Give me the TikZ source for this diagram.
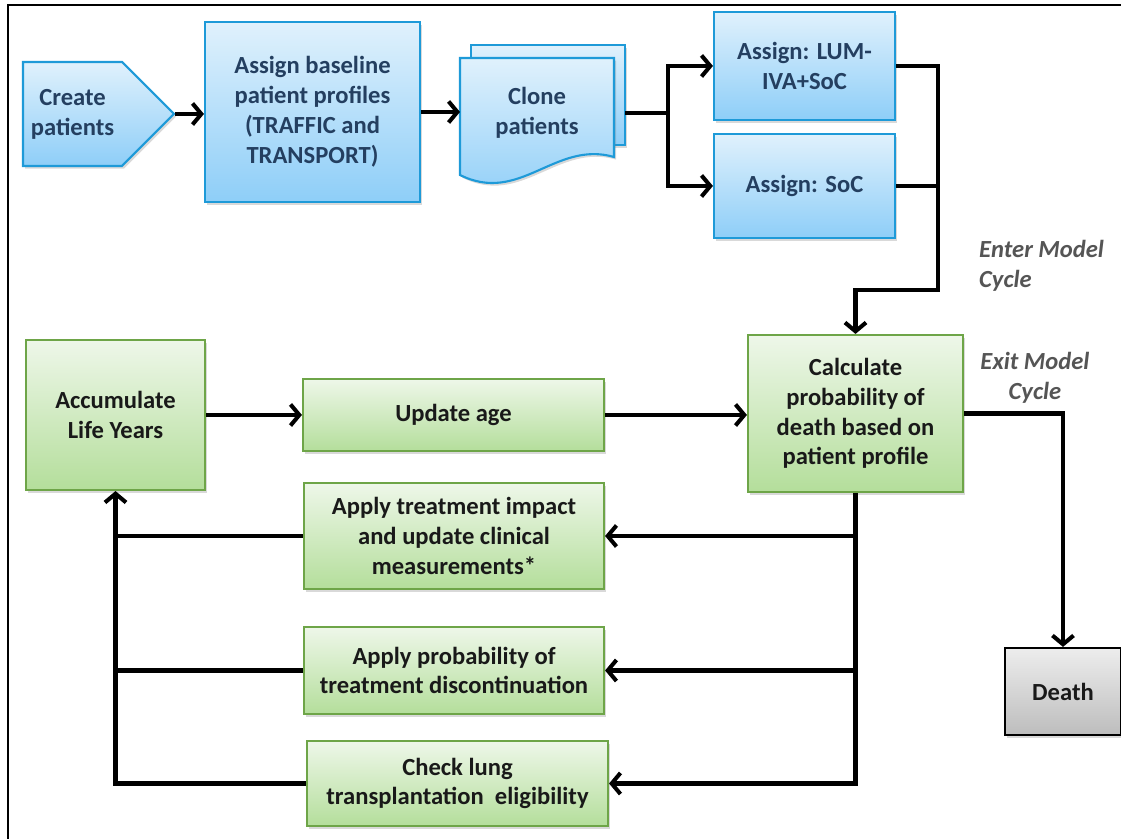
\documentclass[tikz,border=0pt]{standalone}
\usepackage{fontspec}
\setmainfont{Carlito}
\usetikzlibrary{arrows.meta,shapes.symbols,shadows}

\definecolor{blueedge}{HTML}{1E9AD8}
\definecolor{bluetop}{HTML}{E0F1FC}
\definecolor{bluebot}{HTML}{8ECEF8}
\definecolor{bluetext}{HTML}{243F60}
\definecolor{greenedge}{HTML}{6EA548}
\definecolor{greentop}{HTML}{EEF7E9}
\definecolor{greenbot}{HTML}{B4DE9B}
\definecolor{greytop}{HTML}{EDEDED}
\definecolor{greybot}{HTML}{BDBDBD}
\definecolor{labelgray}{HTML}{555555}

\newcommand{\boxfont}{\fontsize{14}{17}\selectfont\bfseries}
\newcommand{\cyclefont}{\fontsize{14}{17}\selectfont\bfseries\itshape}

\begin{document}
\begin{tikzpicture}[
    bluebox/.style={draw=blueedge, line width=1.2pt, top color=bluetop, bottom color=bluebot,
        text=bluetext, font=\boxfont, align=center,
        drop shadow={shadow xshift=1.2pt, shadow yshift=-1.5pt, opacity=0.3}},
    greenbox/.style={draw=greenedge, line width=1.2pt, top color=greentop, bottom color=greenbot,
        text=black!90, font=\boxfont, align=center,
        drop shadow={shadow xshift=1.2pt, shadow yshift=-1.5pt, opacity=0.3}},
    deathbox/.style={draw=black, line width=1.2pt, top color=greytop, bottom color=greybot,
        text=black!90, font=\boxfont, align=center,
        drop shadow={shadow xshift=1.2pt, shadow yshift=-1.5pt, opacity=0.3}},
    link/.style={line width=2.3pt},
    flow/.style={link, -{Straight Barb[length=5pt,width=12pt]}},
    cyclelabel/.style={text=labelgray, font=\cyclefont}
]
    \useasboundingbox (0,0) rectangle (22.42,16.78);

    % Frame
    \draw[line width=1.2pt] (0.16,0) -- (0.16,16.68) -- (22.42,16.68);

    % Patient set-up
    \node[bluebox, signal, signal to=east, signal pointer angle=90,
        minimum width=3.02cm, minimum height=2.08cm] (create) at (1.45,14.50) {Create\\patients};
    \node[bluebox, minimum width=4.30cm, minimum height=3.60cm] (assign) at (6.25,14.54)
        {Assign baseline\\patient profiles\\(TRAFFIC and\\TRANSPORT)};

    % Cloned patient sets (stacked documents)
    \path[draw=blueedge, line width=1.2pt, top color=bluetop, bottom color=bluebot,
        drop shadow={shadow xshift=1.2pt, shadow yshift=-1.5pt, opacity=0.3}]
        (9.42,13.88) rectangle (12.50,15.88);
    \path[draw=blueedge, line width=1.2pt, top color=bluetop, bottom color=bluebot,
        drop shadow={shadow xshift=1.2pt, shadow yshift=-1.5pt, opacity=0.3}]
        (9.20,15.62) -- (12.28,15.62) -- (12.28,13.64)
        .. controls (11.10,13.98) and (10.40,12.68) .. (9.20,13.28) -- cycle;
    \node[text=bluetext, font=\boxfont, align=center] (clone) at (10.74,14.52) {Clone\\patients};
    \coordinate (clonein) at (9.20,14.54);
    \coordinate (cloneout) at (12.50,14.52);
    \coordinate (split) at (13.36,14.52);

    % Treatment arms
    \node[bluebox, minimum width=3.62cm, minimum height=2.16cm] (lum) at (16.09,15.46) {Assign: LUM-\\IVA+SoC};
    \node[bluebox, minimum width=3.62cm, minimum height=2.08cm] (soc) at (16.09,13.06) {Assign: SoC};
    \coordinate (merge) at (18.76,10.98);

    % Model cycle
    \node[greenbox, minimum width=4.30cm, minimum height=3.14cm] (calc) at (17.11,8.51)
        {Calculate\\probability of\\death based on\\patient profile};
    \node[greenbox, minimum width=3.58cm, minimum height=3.00cm] (accum) at (2.31,8.48) {Accumulate\\Life Years};
    \node[greenbox, minimum width=6.02cm, minimum height=1.44cm] (update) at (9.07,8.48) {Update age};
    \node[greenbox, minimum width=6.00cm, minimum height=2.12cm] (treat) at (9.08,6.06)
        {Apply treatment impact\\and update clinical\\measurements*};
    \node[greenbox, minimum width=6.00cm, minimum height=1.74cm] (discont) at (9.08,3.37)
        {Apply probability of\\treatment discontinuation};
    \node[greenbox, minimum width=6.02cm, minimum height=1.70cm] (lung) at (9.15,1.11)
        {Check lung\\transplantation\ \ eligibility};
    \node[deathbox, minimum width=2.32cm, minimum height=1.74cm] (death) at (21.26,2.95) {Death};

    % Labels
    \node[cyclelabel, anchor=west, align=left] (enter) at (19.46,11.46) {Enter Model\\Cycle};
    \node[cyclelabel, align=center] (exit) at (20.70,9.22) {Exit Model\\Cycle};

    % Set-up arrows
    \draw[flow] (create.east) -- (create.east -| assign.west);
    \draw[flow] (assign.east) -- (clonein);
    \draw[link] (cloneout) -- (split);
    \draw[flow] (split) |- (lum.west);
    \draw[flow] (split) |- (soc.west);
    \draw[flow] (lum.east) -| (merge) -| (calc.north);
    \draw[link] (soc.east) -- (soc.east -| merge);

    % Cycle arrows
    \draw[flow] (accum.east |- update.west) -- (update.west);
    \draw[flow] (update.east) -- (update.east -| calc.west);
    \draw[flow] (calc.east) -| (death.north);
    \draw[flow] (calc.south) |- (lung.east);
    \draw[flow] (calc.south |- treat.east) -- (treat.east);
    \draw[flow] (calc.south |- discont.east) -- (discont.east);
    \draw[flow] (lung.west) -| (accum.south);
    \draw[link] (treat.west) -- (treat.west -| accum.south);
    \draw[link] (discont.west) -- (discont.west -| accum.south);
\end{tikzpicture}
\end{document}
